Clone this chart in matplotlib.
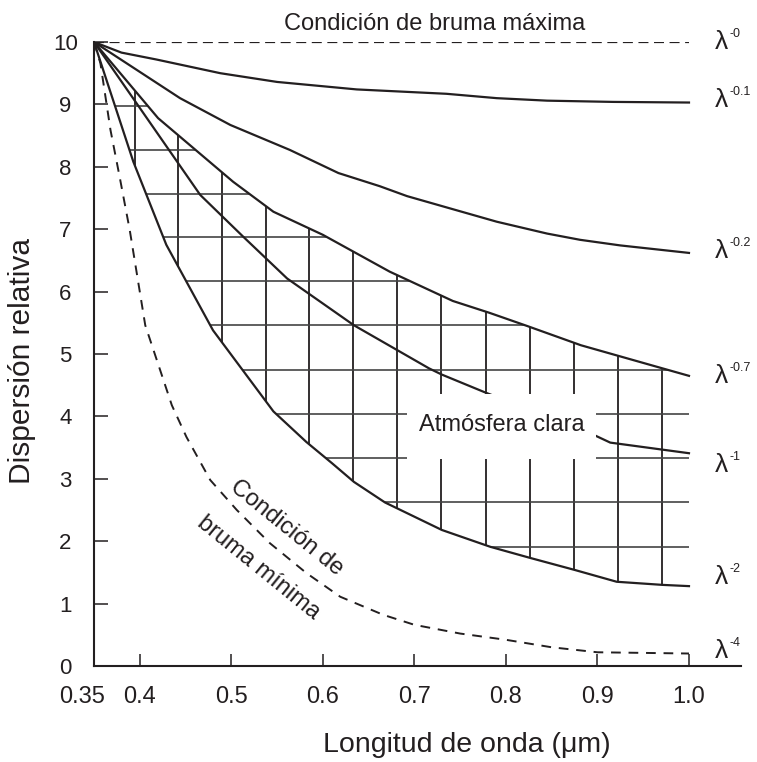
import numpy as np
import matplotlib
matplotlib.use("Agg")
import matplotlib.pyplot as plt
import matplotlib.transforms as mtransforms
from matplotlib.patches import Rectangle

plt.rcParams['font.family'] = ['Liberation Sans', 'DejaVu Sans']

INK = '#231f20'

# ---------------- data ----------------
x_m0 = [0.35, 1.0]
y_m0 = [10.0, 10.0]

x_m01 = [0.35, 0.380, 0.418, 0.488, 0.550, 0.637, 0.735, 0.790, 0.845, 0.917, 1.0]
y_m01 = [10.0, 9.83, 9.72, 9.50, 9.36, 9.24, 9.17, 9.10, 9.06, 9.04, 9.03]

x_m02 = [0.35, 0.444, 0.499, 0.564, 0.617, 0.662, 0.692, 0.735, 0.790, 0.845, 0.881, 0.925, 1.0]
y_m02 = [10.0, 9.10, 8.67, 8.27, 7.90, 7.69, 7.53, 7.35, 7.12, 6.93, 6.83, 6.74, 6.62]

x_m07 = [0.35, 0.420, 0.502, 0.546, 0.600, 0.673, 0.742, 0.782, 0.823, 0.882, 0.971, 1.0]
y_m07 = [10.0, 8.78, 7.76, 7.28, 6.91, 6.32, 5.85, 5.66, 5.45, 5.14, 4.77, 4.65]

x_m1 = [0.35, 0.466, 0.513, 0.561, 0.634, 0.716, 0.730, 0.778, 0.898, 0.914, 1.0]
y_m1 = [10.0, 7.55, 6.88, 6.21, 5.46, 4.77, 4.67, 4.38, 3.69, 3.58, 3.41]

x_m2 = [0.35, 0.393, 0.429, 0.480, 0.546, 0.582, 0.610, 0.634, 0.668, 0.730,
        0.783, 0.827, 0.875, 0.921, 0.971, 1.0]
y_m2 = [10.0, 8.08, 6.75, 5.38, 4.08, 3.59, 3.25, 2.95, 2.62, 2.18,
        1.91, 1.73, 1.54, 1.35, 1.30, 1.28]

x_m4 = [0.35, 0.357, 0.368, 0.378, 0.389, 0.406, 0.435, 0.451, 0.477, 0.506,
        0.542, 0.582, 0.619, 0.666, 0.700, 0.750, 0.800, 0.850, 0.900, 0.950, 1.0]
y_m4 = [10.0, 9.66, 8.59, 7.84, 6.99, 5.46, 4.18, 3.67, 2.98, 2.50,
        1.97, 1.49, 1.11, 0.82, 0.66, 0.52, 0.42, 0.30, 0.22, 0.21, 0.20]

# hatch grid of the "clear atmosphere" region
grid_x = [0.395, 0.442, 0.490, 0.538, 0.585, 0.633, 0.681, 0.729, 0.778, 0.826, 0.874, 0.922, 0.970]
grid_y = [8.97, 8.27, 7.56, 6.87, 6.17, 5.46, 4.74, 4.04, 3.33, 2.63, 1.91]

curve_labels = ['-0', '-0.1', '-0.2', '-0.7', '-1', '-2', '-4']
label_y = [10.0, 9.07, 6.65, 4.65, 3.22, 1.43, 0.24]

xticks = [0.35, 0.4, 0.5, 0.6, 0.7, 0.8, 0.9, 1.0]
xticklabels = ['0.35', '0.4', '0.5', '0.6', '0.7', '0.8', '0.9', '1.0']
yticks = list(range(0, 11))
yticklabels = [str(v) for v in yticks]

# ---------------- figure ----------------
fig = plt.figure(figsize=(7.57, 7.62), dpi=100)
ax = fig.add_axes([94 / 757, 96 / 762, 646.7 / 757, 624 / 762])
ax.set_xlim(0.35, 1.0565)
ax.set_ylim(0, 10)

for s in ['top', 'right']:
    ax.spines[s].set_visible(False)
for s in ['left', 'bottom']:
    ax.spines[s].set_linewidth(1.5)
    ax.spines[s].set_color(INK)

# hatch grid
x2a, y2a = np.array(x_m2), np.array(y_m2)
x07a, y07a = np.array(x_m07), np.array(y_m07)
for gx in grid_x:
    lo = np.interp(gx, x2a, y2a)
    hi = np.interp(gx, x07a, y07a)
    ax.vlines(gx, lo, hi, color=INK, lw=1.3, zorder=1)
for gy in grid_y:
    left = np.interp(gy, y2a[::-1], x2a[::-1])
    if gy >= y07a.min():
        right = np.interp(gy, y07a[::-1], x07a[::-1])
    else:
        right = 1.0
    ax.hlines(gy, left, right, color='#444444', lw=1.2, zorder=1)

# curves
ax.plot(x_m0, y_m0, color=INK, lw=1.6, dashes=(4.5, 2.5), zorder=2)
for xs, ys in [(x_m01, y_m01), (x_m02, y_m02), (x_m07, y_m07), (x_m1, y_m1), (x_m2, y_m2)]:
    ax.plot(xs, ys, color=INK, lw=1.6, zorder=2, solid_joinstyle='round')
ax.plot(x_m4, y_m4, color=INK, lw=1.4, dashes=(5, 4), zorder=2)

# white box for the label
ax.add_patch(Rectangle((0.692, 3.31), 0.206, 1.05, facecolor='white',
                       edgecolor='none', zorder=3))
ax.text(0.796, 3.86, 'Atmósfera clara', ha='center', va='center',
        fontsize=17, color=INK, zorder=4)

# annotations
ax.text(0.7225, 10.19, 'Condición de bruma máxima', ha='center', va='baseline',
        fontsize=17, color=INK, clip_on=False)
ax.text(0.5605, 2.22, 'Condición de', ha='center', va='center', rotation=-39,
        rotation_mode='anchor', fontsize=17, color=INK)
ax.text(0.5295, 1.566, 'bruma mínima', ha='center', va='center', rotation=-39,
        rotation_mode='anchor', fontsize=17, color=INK)

# lambda labels
sup_off = mtransforms.ScaledTranslation(0, 0.08, fig.dpi_scale_trans)
for lab, ly in zip(curve_labels, label_y):
    ax.text(1.0355, ly, 'λ', ha='center', va='center', fontsize=19,
            color=INK, clip_on=False)
    ax.text(1.0446, ly, lab, ha='left', va='center', fontsize=9,
            color=INK, clip_on=False, transform=ax.transData + sup_off)

# ticks
ax.set_xticks(xticks)
ax.set_xticklabels(xticklabels)
ax.set_yticks(yticks)
ax.set_yticklabels(yticklabels, ha='center')
ax.tick_params(axis='x', direction='in', length=9, width=1.1, pad=14.5,
               labelsize=17, colors=INK)
ax.tick_params(axis='y', direction='in', length=10, width=1.1, pad=20.5,
               labelsize=16, colors=INK)
xl0 = ax.get_xticklabels()[0]
xl0.set_transform(xl0.get_transform() +
                  mtransforms.ScaledTranslation(-0.12, 0, fig.dpi_scale_trans))

ax.set_xlabel('Longitud de onda (μm)', fontsize=20.5, color=INK)
ax.set_ylabel('Dispersión relativa', fontsize=21.5, color=INK)
ax.xaxis.set_label_coords(0.576, -0.1266)
ax.xaxis.label.set_va('center')
ax.yaxis.set_label_coords(-0.1106, 0.489)
ax.yaxis.label.set_va('center')
ax.yaxis.label.set_ha('center')

fig.savefig('out.png', dpi=100)
